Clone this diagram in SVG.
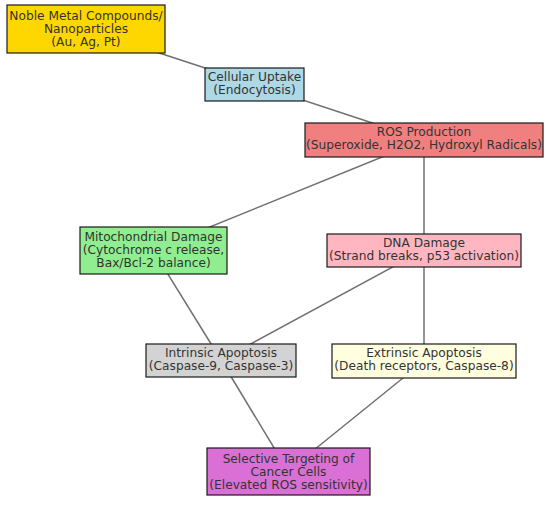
<svg xmlns="http://www.w3.org/2000/svg" width="550" height="506" viewBox="0 0 550 506">
<style>
.n rect{stroke:#1a1a1a;stroke-width:1.2}
.n text{font-family:"DejaVu Sans",sans-serif;font-size:12.2px;fill:#333;text-anchor:middle}
.e line{stroke:#707070;stroke-width:1.5}
</style>
<rect width="550" height="506" fill="#fff"/>
<g id="edges" class="e">
<line x1="86" y1="29" x2="254" y2="84"/>
<line x1="254" y1="84" x2="424" y2="140"/>
<line x1="424" y1="140" x2="153" y2="250"/>
<line x1="424" y1="140" x2="424" y2="250"/>
<line x1="153" y1="250" x2="221" y2="360"/>
<line x1="424" y1="250" x2="221" y2="360"/>
<line x1="424" y1="250" x2="424" y2="361"/>
<line x1="221" y1="360" x2="288" y2="471"/>
<line x1="424" y1="361" x2="288" y2="471"/>
</g>
<g id="noble" class="n"><rect x="7" y="5" width="158" height="48" fill="#FFD700"/>
<text x="86" y="20">Noble Metal Compounds/</text><text x="86" y="33.2">Nanoparticles</text><text x="86" y="46.4">(Au, Ag, Pt)</text></g>
<g id="uptake" class="n"><rect x="205" y="68" width="99" height="33" fill="#ADD8E6"/>
<text x="254.5" y="80.5">Cellular Uptake</text><text x="254.5" y="93.7">(Endocytosis)</text></g>
<g id="ros" class="n"><rect x="305" y="123" width="238" height="34" fill="#F08080"/>
<text x="424" y="136">ROS Production</text><text x="424" y="149.2">(Superoxide, H2O2, Hydroxyl Radicals)</text></g>
<g id="mito" class="n"><rect x="80" y="227" width="147" height="47" fill="#90EE90"/>
<text x="153.5" y="240.6">Mitochondrial Damage</text><text x="153.5" y="253.8">(Cytochrome c release,</text><text x="153.5" y="267">Bax/Bcl-2 balance)</text></g>
<g id="dna" class="n"><rect x="327" y="234" width="194" height="33" fill="#FFB6C1"/>
<text x="424" y="246.5">DNA Damage</text><text x="424" y="259.7">(Strand breaks, p53 activation)</text></g>
<g id="intrinsic" class="n"><rect x="146" y="344" width="150" height="33" fill="#D3D3D3"/>
<text x="221" y="356.5">Intrinsic Apoptosis</text><text x="221" y="369.7">(Caspase-9, Caspase-3)</text></g>
<g id="extrinsic" class="n"><rect x="332" y="344" width="184" height="34" fill="#FFFFE0"/>
<text x="424" y="357">Extrinsic Apoptosis</text><text x="424" y="370.2">(Death receptors, Caspase-8)</text></g>
<g id="selective" class="n"><rect x="207" y="448" width="163" height="47" fill="#DA70D6"/>
<text x="288.5" y="462.5">Selective Targeting of</text><text x="288.5" y="475.7">Cancer Cells</text><text x="288.5" y="488.9">(Elevated ROS sensitivity)</text></g>
</svg>
